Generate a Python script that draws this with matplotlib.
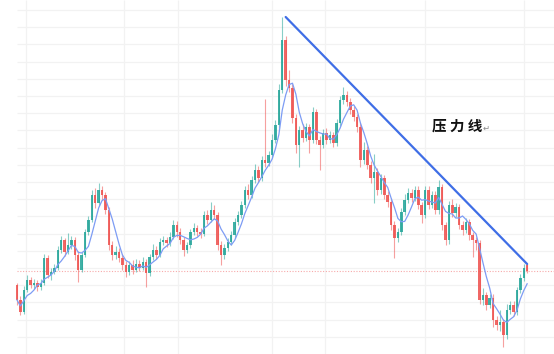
import numpy as np
import pandas as pd
import matplotlib
matplotlib.use('Agg')
import matplotlib.pyplot as plt

# candle data (arbitrary price units)
opens = [69, 54, 42, 64, 74, 69, 71, 67, 71, 96,
         79, 82, 86, 104, 114, 102, 109, 114, 99, 84,
         99, 122, 134, 159, 151, 164, 159, 144, 109, 99,
         102, 96, 89, 82, 89, 84, 90, 86, 92, 81,
         97, 104, 99, 112, 114, 111, 117, 129, 122, 114,
         104, 109, 122, 126, 122, 120, 139, 134, 144, 139,
         109, 99, 106, 112, 119, 132, 139, 149, 164, 159,
         174, 184, 176, 194, 191, 199, 214, 229, 264, 314,
         274, 266, 236, 209, 224, 216, 227, 214, 242, 214,
         209, 221, 214, 219, 211, 231, 254, 259, 252, 244,
         237, 227, 194, 204, 189, 176, 182, 164, 176, 159,
         152, 129, 116, 122, 142, 154, 161, 156, 164, 149,
         139, 164, 149, 159, 144, 167, 129, 114, 149, 141,
         147, 129, 124, 132, 119, 114, 111, 54, 59, 49,
         56, 34, 29, 32, 19, 44, 49, 42, 64, 76,
         89]
closes = [54, 42, 64, 74, 69, 71, 67, 71, 96, 79,
          82, 86, 104, 114, 102, 109, 114, 99, 84, 99,
          122, 134, 159, 151, 164, 159, 144, 109, 99, 102,
          96, 89, 82, 89, 84, 90, 86, 92, 81, 97,
          104, 99, 112, 114, 111, 117, 129, 122, 114, 104,
          109, 122, 126, 122, 120, 139, 134, 144, 139, 109,
          99, 106, 112, 119, 132, 139, 149, 164, 159, 174,
          184, 176, 194, 191, 199, 214, 229, 264, 314, 274,
          266, 236, 209, 224, 216, 227, 214, 242, 214, 209,
          221, 214, 219, 211, 231, 254, 259, 252, 244, 237,
          227, 194, 204, 189, 176, 182, 164, 176, 159, 152,
          129, 116, 122, 142, 154, 161, 156, 164, 149, 139,
          164, 149, 159, 144, 167, 129, 114, 149, 141, 147,
          129, 124, 132, 119, 114, 111, 54, 59, 49, 56,
          34, 29, 32, 19, 44, 49, 42, 64, 76, 86,
          83]
highs = [71, 58, 68, 79, 77, 75, 74, 75, 100, 99,
         86, 90, 108, 118, 116, 121, 118, 117, 103, 102,
         125, 138, 164, 166, 171, 168, 162, 147, 113, 108,
         106, 100, 93, 93, 94, 95, 94, 97, 95, 100,
         110, 108, 116, 118, 117, 122, 134, 133, 126, 117,
         112, 125, 131, 129, 126, 143, 144, 152, 149, 142,
         113, 110, 116, 123, 136, 143, 153, 168, 170, 178,
         190, 188, 198, 255, 203, 220, 234, 270, 337, 318,
         284, 270, 240, 228, 230, 231, 230, 247, 245, 218,
         225, 226, 223, 222, 235, 258, 267, 263, 256, 248,
         240, 231, 212, 208, 193, 200, 186, 180, 179, 163,
         156, 133, 126, 146, 160, 166, 165, 168, 168, 152,
         168, 168, 163, 163, 174, 170, 132, 153, 155, 151,
         150, 133, 136, 135, 122, 117, 114, 66, 62, 60,
         60, 38, 44, 35, 50, 53, 53, 67, 80, 90,
         91]
lows = [49, 39, 40, 62, 66, 65, 63, 64, 69, 76,
        74, 80, 84, 101, 98, 100, 105, 94, 72, 82,
        97, 119, 132, 146, 148, 154, 140, 104, 94, 95,
        92, 84, 77, 79, 80, 82, 83, 84, 67, 78,
        94, 95, 97, 109, 107, 108, 115, 117, 110, 98,
        101, 106, 119, 118, 116, 118, 130, 132, 135, 104,
        89, 95, 103, 109, 116, 129, 136, 146, 155, 156,
        171, 172, 173, 187, 188, 196, 211, 226, 261, 268,
        262, 231, 201, 187, 212, 213, 201, 211, 210, 184,
        206, 210, 211, 207, 208, 228, 250, 248, 240, 233,
        222, 187, 190, 185, 171, 151, 159, 160, 155, 147,
        124, 96, 112, 119, 139, 151, 152, 153, 145, 131,
        136, 145, 146, 140, 140, 124, 109, 110, 137, 137,
        125, 119, 121, 114, 97, 104, 50, 49, 44, 46,
        27, 24, 23, 7, 15, 40, 38, 39, 61, 73,
        81]

# hand-drawn resistance line (candle index, price)
trend_x = [79, 150]
trend_y = [337, 90]

label_text = '压 力 线'
last_price = 83

# month separators (candle index)
month_lines = [2.6, 31.5, 47.4, 75, 90.6, 120, 149.1]

up_color = '#26a69a'
down_color = '#ef5350'

x = np.arange(len(closes))
o = np.array(opens)
c = np.array(closes)
colors = [up_color if cc >= oo else down_color for oo, cc in zip(o, c)]

fig = plt.figure(figsize=(5.54, 3.54), dpi=100)
ax = fig.add_axes([0, 0, 1, 1])

# faint grid
ax.vlines(month_lines, 0, 354, colors='#f2f2f2', linewidth=0.9, zorder=0)
ax.hlines(np.arange(344, 0, -17.2), 0, 160, colors='#f2f2f2', linewidth=0.9,
          zorder=0)
ax.set_xticks([])
ax.set_yticks([])
for s in ax.spines.values():
    s.set_visible(False)

# last price line
ax.axhline(last_price, xmin=0.03, xmax=1.0, color='#f7aaaa', linewidth=0.8,
           linestyle=(0, (1, 1.5)), zorder=1)

# wicks
ax.vlines(x, lows, highs, colors=colors, linewidth=0.8, alpha=0.55, zorder=2)
# bodies
body = np.maximum(np.abs(c - o), 1.0)
ax.bar(x, body, bottom=np.minimum(o, c), width=0.72, color=colors,
       alpha=0.88, linewidth=0, zorder=3)

# moving average
ma = pd.Series(c).rolling(5, min_periods=1).mean()
ax.plot(x, ma, color='#7d9cf4', linewidth=0.9, zorder=4)

# resistance line
ax.plot(trend_x, trend_y, color='#3f6ee6', linewidth=1.6,
        solid_capstyle='round', zorder=5)

ax.text(122, 228, label_text, fontsize=10.5, fontweight='bold', color='#111111',
        family=['Noto Sans CJK SC', 'DejaVu Sans'], va='center', ha='left',
        zorder=6)
ax.text(136.8, 226, '↵', fontsize=6, color='#888888', family=['DejaVu Sans'],
        va='center', ha='left', zorder=6)

ax.set_xlim(-5, 157.9)
ax.set_ylim(0, 354)

fig.savefig('out.png', dpi=100)
